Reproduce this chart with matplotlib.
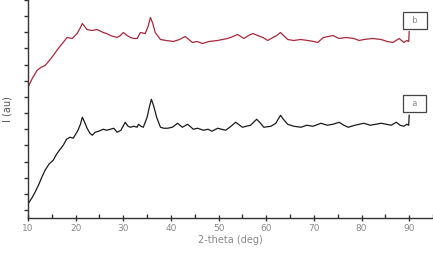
import numpy as np
import matplotlib
matplotlib.use("Agg")
import matplotlib.pyplot as plt
from matplotlib.ticker import MultipleLocator

# sample a (black)
theta_a = [10, 10.8, 11.5, 12.3, 13.0, 13.6, 14.4, 15.3, 16.0, 16.6, 17.4, 18.1, 18.8, 19.5,
           20.0, 20.5, 21.0, 21.4, 21.8, 22.4, 23.0, 23.5, 24.1, 24.8, 25.8, 26.5, 27.3, 28.0,
           28.7, 29.5, 30.4, 31.0, 31.5, 32.2, 32.9, 33.2, 33.7, 34.2, 35.0, 35.5, 35.9, 36.4,
           37.0, 37.8, 38.5, 39.3, 40.3, 41.4, 42.4, 43.5, 44.7, 45.6, 46.8, 47.8, 48.6, 49.8,
           50.6, 51.5, 52.6, 53.6, 55.0, 55.8, 56.7, 58.0, 58.8, 59.5, 61.0, 62.0, 63.0, 63.6,
           64.5, 65.8, 67.3, 68.5, 69.8, 71.5, 72.8, 74.0, 75.3, 76.3, 77.2, 78.6, 80.5, 81.8,
           83.0, 84.1, 85.2, 86.2, 87.3, 88.1, 88.9, 89.5, 89.9, 90.0]
int_a = [14, 20, 26, 34, 42, 48, 54, 58, 64, 68, 73, 79, 81, 80,
         84, 88, 94, 101, 97, 90, 85, 83, 86, 87, 89, 88, 89, 90,
         86, 88, 96, 92, 91, 92, 91, 94, 92, 91, 101, 112, 119, 112,
         101, 91, 90, 90, 91, 95, 91, 94, 89, 90, 88, 89, 87, 90,
         89, 88, 92, 96, 91, 92, 93, 99, 95, 91, 92, 95, 103, 99,
         94, 92, 91, 93, 92, 95, 93, 94, 96, 93, 91, 93, 95, 93,
         94, 95, 94, 93, 96, 93, 92, 94, 93, 103]

# sample b (red)
theta_b = [10, 10.9, 11.9, 12.7, 13.6, 14.5, 15.3, 16.2, 17.2, 18.2, 19.3, 20.3, 20.9, 21.4,
           21.9, 22.4, 23.4, 24.5, 25.8, 26.5, 27.3, 28.0, 28.7, 29.4, 30.0, 30.8, 31.5, 32.2,
           32.9, 33.6, 34.6, 35.2, 35.7, 36.2, 36.7, 37.8, 39.0, 40.5, 41.8, 43.0, 44.5, 45.5,
           46.6, 48.0, 49.8, 50.8, 51.9, 53.0, 54.0, 55.3, 56.3, 57.2, 58.2, 59.3, 60.3, 61.4,
           62.2, 63.0, 64.5, 65.8, 67.2, 68.7, 70.0, 70.8, 72.0, 73.0, 74.0, 75.3, 76.8, 78.4,
           79.5, 80.5, 82.3, 84.1, 85.4, 86.6, 87.9, 88.9, 89.5, 89.9, 90.0]
int_b = [131, 140, 148, 151, 153, 158, 163, 169, 175, 181, 180, 185, 190, 195,
         192, 189, 188, 189, 186, 185, 183, 182, 181, 183, 186, 183, 181, 180,
         180, 186, 185, 192, 201, 195, 186, 179, 178, 177, 179, 182, 176, 177,
         175, 177, 178, 179, 180, 182, 184, 180, 183, 185, 183, 181, 178, 181,
         183, 186, 179, 178, 179, 178, 177, 176, 181, 182, 183, 180, 181, 180,
         178, 179, 180, 179, 177, 176, 180, 176, 178, 177, 187]

fig = plt.figure(figsize=(4.33, 2.54), dpi=100)
ax = fig.add_axes([28 / 433, 36 / 254, 405 / 433, 218 / 254])

ax.plot(theta_a, int_a, color="#1a1a1a", lw=0.9)
ax.plot(theta_b, int_b, color="#a8283a", lw=0.9)

ax.set_xlim(10, 95)
ax.set_ylim(0, 218)

for s in ["top", "right"]:
    ax.spines[s].set_visible(False)
for s in ["left", "bottom"]:
    ax.spines[s].set_linewidth(1.0)
    ax.spines[s].set_color("#333333")

ax.set_xticks(range(10, 100, 10))
ax.set_xticklabels([str(v) for v in range(10, 100, 10)])
ax.xaxis.set_minor_locator(MultipleLocator(5))
ax.set_yticks(np.arange(8, 220, 16.2))
ax.set_yticklabels([])
ax.tick_params(axis="x", which="major", direction="inout", length=5, width=1,
               color="#333333", labelsize=6.5, labelcolor="#8a8a8a", pad=2)
ax.tick_params(axis="x", which="minor", direction="in", length=3, width=1, color="#333333")
ax.tick_params(axis="y", direction="out", length=3, width=1, color="#333333")

ax.set_xlabel("2-theta (deg)", fontsize=7, color="#8a8a8a", labelpad=1)
ax.set_ylabel("I (au)", fontsize=7, color="#555555", labelpad=5)

box = dict(boxstyle="square,pad=0.45", fc="white", ec="#444444", lw=0.9)
ax.text(91.2, 218 - 103, "  a  ", fontsize=6, color="#888888", ha="center", va="center",
        bbox=box)
ax.text(91.2, 218 - 20, "  b  ", fontsize=6, color="#888888", ha="center", va="center",
        bbox=box)

fig.savefig("out.png", dpi=100)
